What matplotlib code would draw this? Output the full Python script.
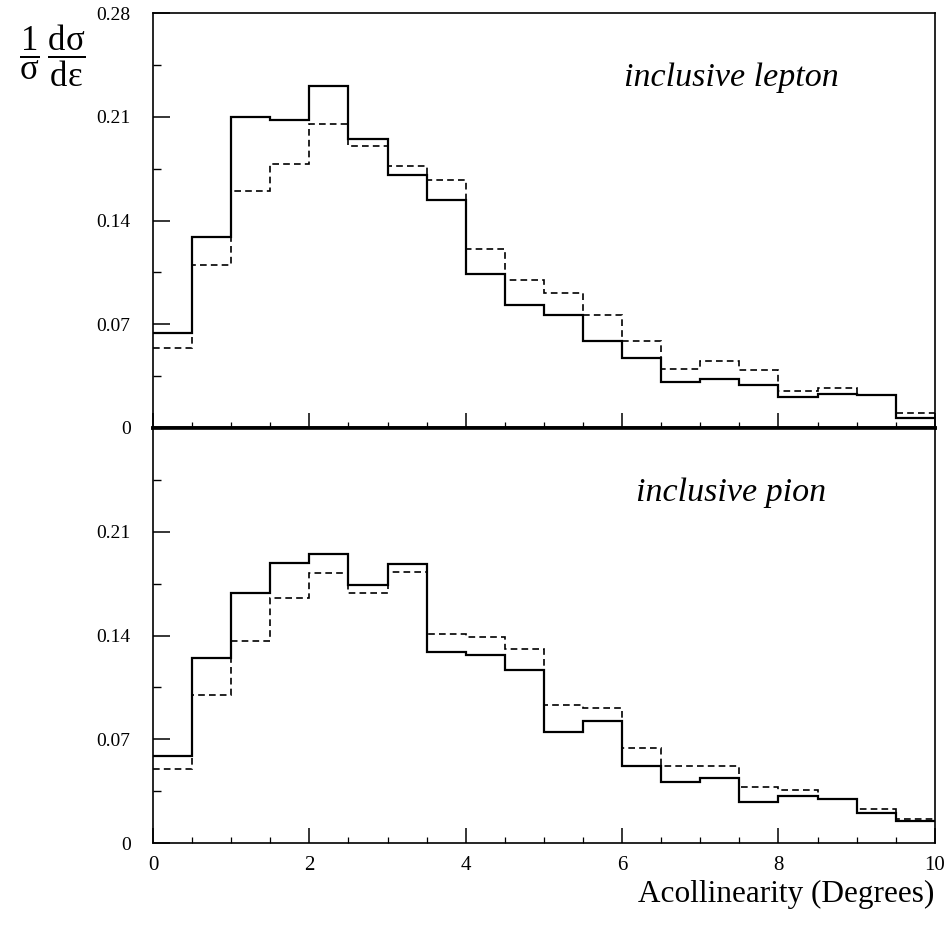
import numpy as np
import matplotlib
matplotlib.use("Agg")
import matplotlib.pyplot as plt
from matplotlib.ticker import MultipleLocator, FixedLocator

plt.rcParams['font.family'] = ['Liberation Serif', 'DejaVu Serif']
plt.rcParams['mathtext.fontset'] = 'custom'
plt.rcParams['mathtext.rm'] = 'Liberation Serif'

# bin edges of the acollinearity histogram (degrees)
edges = np.arange(0, 10.01, 0.5)

# inclusive lepton: solid / dashed
lepton_solid = [0.064, 0.129, 0.210, 0.208, 0.231, 0.195, 0.171, 0.154, 0.104, 0.083,
                0.076, 0.059, 0.047, 0.031, 0.033, 0.029, 0.021, 0.023, 0.022, 0.007]
lepton_dash = [0.054, 0.110, 0.160, 0.178, 0.205, 0.190, 0.177, 0.167, 0.121, 0.100,
               0.091, 0.076, 0.059, 0.040, 0.045, 0.039, 0.025, 0.027, 0.022, 0.010]

# inclusive pion: solid / dashed
pion_solid = [0.059, 0.125, 0.169, 0.189, 0.195, 0.174, 0.188, 0.129, 0.127, 0.117,
              0.075, 0.082, 0.052, 0.041, 0.044, 0.028, 0.032, 0.030, 0.020, 0.015]
pion_dash = [0.050, 0.100, 0.136, 0.165, 0.182, 0.169, 0.183, 0.141, 0.139, 0.131,
             0.093, 0.091, 0.064, 0.052, 0.052, 0.038, 0.036, 0.030, 0.023, 0.016]

yticks_top = [0, 0.07, 0.14, 0.21, 0.28]
yticks_bot = [0, 0.07, 0.14, 0.21]
xticks = [0, 2, 4, 6, 8, 10]

fig = plt.figure(figsize=(9.5, 9.3), dpi=100)
ax1 = fig.add_axes([0.161, 0.5398, 0.823, 0.4462])
ax2 = fig.add_axes([0.161, 0.0935, 0.823, 0.4463])

panels = [(ax1, lepton_solid, lepton_dash, 'inclusive lepton', yticks_top),
          (ax2, pion_solid, pion_dash, 'inclusive pion', yticks_bot)]

for ax, solid, dash, label, yt in panels:
    ax.stairs(solid, edges, color='black', lw=1.6, baseline=None)
    ax.stairs(dash, edges, color='black', lw=1.2, ls=(0, (4, 2.5)), baseline=None)
    ax.set_xlim(0, 10)
    ax.set_ylim(0, 0.28)
    ax.yaxis.set_major_locator(FixedLocator(yt))
    ax.yaxis.set_minor_locator(MultipleLocator(0.035))
    ax.xaxis.set_major_locator(FixedLocator(xticks))
    ax.xaxis.set_minor_locator(MultipleLocator(0.5))
    ax.set_yticklabels(['0' if v == 0 else '%.2f' % v for v in yt], fontsize=14)
    ax.tick_params(axis='y', which='major', direction='in', length=12, width=1.1, pad=16)
    ax.tick_params(axis='y', which='minor', direction='in', length=6, width=1.0)
    ax.tick_params(axis='x', which='major', direction='in', length=11, width=1.1, pad=9,
                   labelsize=15)
    ax.tick_params(axis='x', which='minor', direction='in', length=4, width=0.9)
    for s in ax.spines.values():
        s.set_linewidth(1.2)
    ax.text(0.74, 0.843, label, transform=ax.transAxes, ha='center', va='center',
            fontsize=24.5, style='italic')

ax1.tick_params(axis='x', labelbottom=False)
ax1.spines['bottom'].set_linewidth(2.6)
ax2.spines['top'].set_linewidth(2.6)

fig.text(0.984, 0.038, 'Acollinearity (Degrees)', ha='right', va='center', fontsize=22.5)
fig.text(0.055, 0.94, r'$\dfrac{\mathregular{1}}{\mathregular{σ}}\,\dfrac{\mathregular{dσ}}{\mathregular{dε}}$',
         ha='center', va='center', fontsize=25)

fig.savefig('out.png', dpi=100)
